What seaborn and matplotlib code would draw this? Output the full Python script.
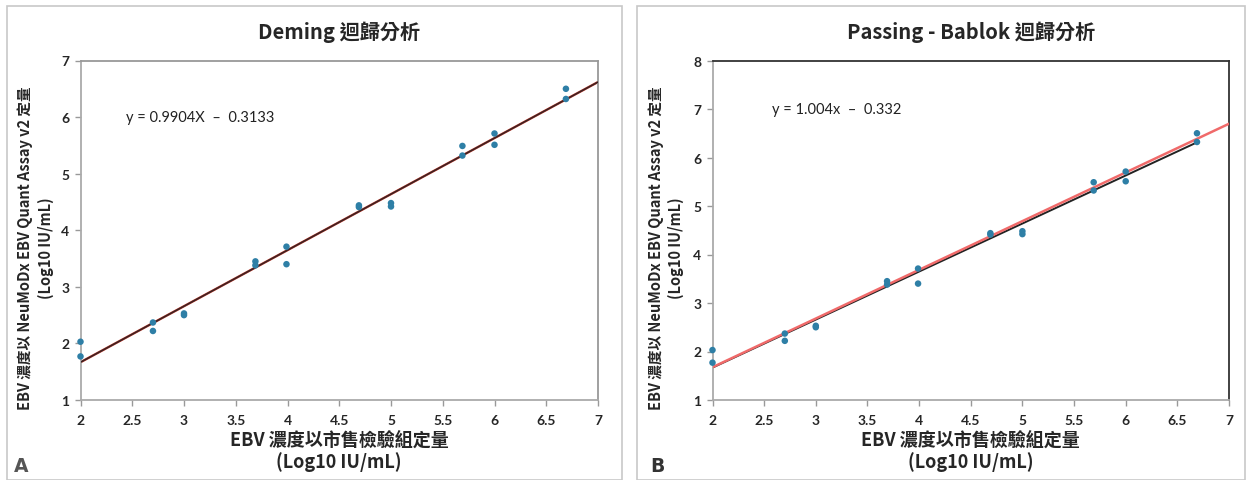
import matplotlib
matplotlib.use("Agg")
import matplotlib.pyplot as plt
import matplotlib.patches as mpatches
import numpy as np
import pandas as pd
import seaborn as sns

# ---- data ----
x_vals = [2.0, 2.0, 2.7, 2.7, 3.0, 3.0, 3.69, 3.69, 3.99, 3.99,
          4.69, 4.69, 5.0, 5.0, 5.69, 5.69, 6.0, 6.0, 6.69, 6.69]
y_vals = [2.03, 1.77, 2.37, 2.22, 2.53, 2.50, 3.45, 3.38, 3.71, 3.40,
          4.44, 4.41, 4.48, 4.42, 5.49, 5.32, 5.71, 5.51, 6.50, 6.32]
deming_slope, deming_int = 0.9904, -0.3133
pb_slope, pb_int = 1.004, -0.332
titles = ["Deming 迴歸分析", "Passing - Bablok 迴歸分析"]
equations = ["y = 0.9904X  –  0.3133", "y = 1.004x  –  0.332"]
panel_letters = ["A", "B"]
x_ticks = [2, 2.5, 3, 3.5, 4, 4.5, 5, 5.5, 6, 6.5, 7]
y_ticks_a = [1, 2, 3, 4, 5, 6, 7]
y_ticks_b = [1, 2, 3, 4, 5, 6, 7, 8]
xlabel = "EBV 濃度以市售檢驗組定量\n(Log10 IU/mL)"
ylabel = "EBV 濃度以 NeuMoDx EBV Quant Assay v2 定量\n(Log10 IU/mL)"

sns.set_theme(style="white")
plt.rcParams['font.family'] = ['Noto Sans CJK TC', 'DejaVu Sans']

df = pd.DataFrame({"x": x_vals, "y": y_vals})

W, H = 1248, 481
fig = plt.figure(figsize=(W / 100, H / 100), dpi=100)

# panel frames
for (x0, x1) in [(7, 622), (637, 1245)]:
    fig.patches.append(mpatches.Rectangle((x0 / W, 0), (x1 - x0) / W, (H - 7) / H,
                                          transform=fig.transFigure, fill=False,
                                          edgecolor="#c8c8c8", linewidth=1.2))

axA = fig.add_axes([80.5 / W, 1 - 401 / H, (598 - 80.5) / W, (401 - 61.5) / H])
axB = fig.add_axes([712.5 / W, 1 - 401 / H, (1229 - 712.5) / W, (401 - 61.5) / H])

def style(ax, yticks, ylim, dark_top, ylab_x):
    ax.set_xlim(2, 7)
    ax.set_ylim(*ylim)
    ax.set_xticks(x_ticks)
    ax.set_xticklabels([f"{t:g}" for t in x_ticks])
    ax.set_yticks(yticks)
    ax.tick_params(axis="both", direction="out", length=4, width=1, color="#999999",
                   labelsize=10, pad=5)
    for lab in ax.get_xticklabels() + ax.get_yticklabels():
        lab.set_fontweight("bold")
        lab.set_family(['Lato', 'DejaVu Sans'])
    ax.tick_params(axis="x", bottom=True, pad=6)
    ax.tick_params(axis="y", left=True, pad=4)
    for s in ["left", "bottom"]:
        ax.spines[s].set_color("#aaaaaa")
        ax.spines[s].set_linewidth(1.3)
    for s in ["top", "right"]:
        ax.spines[s].set_color("#333333" if dark_top else "#999999")
        ax.spines[s].set_linewidth(1.3)
    ax.set_xlabel(xlabel, fontsize=13, fontweight="bold", labelpad=3, linespacing=1.15)
    ax.set_ylabel(ylabel, fontsize=10.5, fontweight="bold", linespacing=1.3)
    ax.yaxis.set_label_coords(ylab_x, 0.45)
    ax.grid(False)

# Panel A
xs = np.array([2.0, 7.0])
axA.plot(xs, deming_slope * xs + deming_int, color="#c0392b", lw=1.7, zorder=2)
axA.plot(xs, deming_slope * xs + deming_int, color="#3a2222", lw=1.1, zorder=3)
sns.scatterplot(data=df, x="x", y="y", ax=axA, color="#2e7fa6", s=22,
                edgecolor="none", zorder=4, clip_on=False)
style(axA, y_ticks_a, (1, 7), False, -0.052)
axA.set_title(titles[0], fontsize=14.5, fontweight="bold", pad=16)
axA.text(2.44, 6.0, equations[0], fontsize=10.5, va="center", ha="left",
         family=['Lato', 'DejaVu Sans'], color="#222222")

# Panel B
xb = np.array([2.0, 7.0])
axB.plot(xb, pb_slope * xb + pb_int, color="#f06a6a", lw=1.8, zorder=3)
xk = np.array([2.0, 6.69])
axB.plot(xk, deming_slope * xk + deming_int, color="#222222", lw=1.4, zorder=2)
sns.scatterplot(data=df, x="x", y="y", ax=axB, color="#2e7fa6", s=22,
                edgecolor="none", zorder=4, clip_on=False)
style(axB, y_ticks_b, (1, 8), True, -0.055)
axB.set_title(titles[1], fontsize=14.5, fontweight="bold", pad=16)
axB.text(2.58, 7.0, equations[1], fontsize=10.5, va="center", ha="left",
         family=['Lato', 'DejaVu Sans'], color="#222222")

fig.text(14 / W, 1 - 467 / H, panel_letters[0], fontsize=13.5, fontweight="bold",
         color="#555555", va="center", ha="left", family=['DejaVu Sans'])
fig.text(650 / W, 1 - 467 / H, panel_letters[1], fontsize=13.5, fontweight="bold",
         color="#333333", va="center", ha="left", family=['DejaVu Sans'])

fig.savefig("out.png", dpi=100)
